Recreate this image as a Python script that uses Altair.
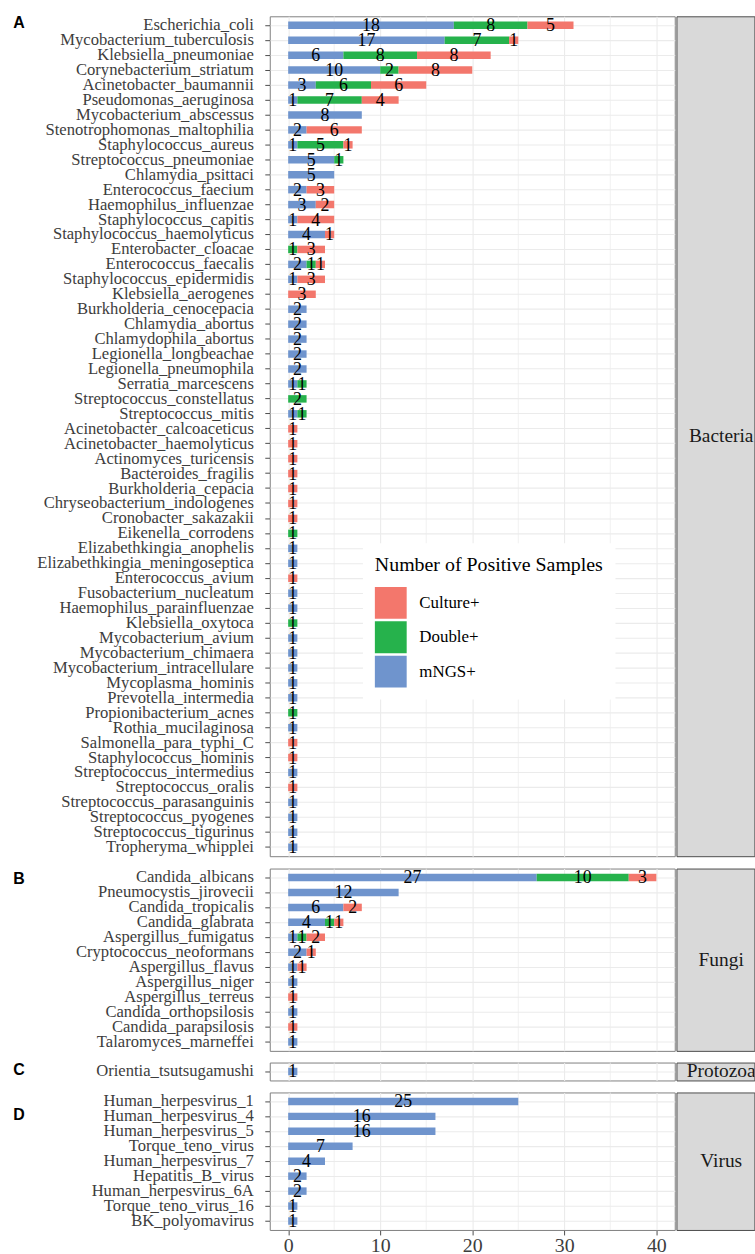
import altair as alt
import pandas as pd

# ---------------- data ----------------
bacteria = [
    "Escherichia_coli", "Mycobacterium_tuberculosis", "Klebsiella_pneumoniae",
    "Corynebacterium_striatum", "Acinetobacter_baumannii", "Pseudomonas_aeruginosa",
    "Mycobacterium_abscessus", "Stenotrophomonas_maltophilia", "Staphylococcus_aureus",
    "Streptococcus_pneumoniae", "Chlamydia_psittaci", "Enterococcus_faecium",
    "Haemophilus_influenzae", "Staphylococcus_capitis", "Staphylococcus_haemolyticus",
    "Enterobacter_cloacae", "Enterococcus_faecalis", "Staphylococcus_epidermidis",
    "Klebsiella_aerogenes", "Burkholderia_cenocepacia", "Chlamydia_abortus",
    "Chlamydophila_abortus", "Legionella_longbeachae", "Legionella_pneumophila",
    "Serratia_marcescens", "Streptococcus_constellatus", "Streptococcus_mitis",
    "Acinetobacter_calcoaceticus", "Acinetobacter_haemolyticus", "Actinomyces_turicensis",
    "Bacteroides_fragilis", "Burkholderia_cepacia", "Chryseobacterium_indologenes",
    "Cronobacter_sakazakii", "Eikenella_corrodens", "Elizabethkingia_anophelis",
    "Elizabethkingia_meningoseptica", "Enterococcus_avium", "Fusobacterium_nucleatum",
    "Haemophilus_parainfluenzae", "Klebsiella_oxytoca", "Mycobacterium_avium",
    "Mycobacterium_chimaera", "Mycobacterium_intracellulare", "Mycoplasma_hominis",
    "Prevotella_intermedia", "Propionibacterium_acnes", "Rothia_mucilaginosa",
    "Salmonella_para_typhi_C", "Staphylococcus_hominis", "Streptococcus_intermedius",
    "Streptococcus_oralis", "Streptococcus_parasanguinis", "Streptococcus_pyogenes",
    "Streptococcus_tigurinus", "Tropheryma_whipplei",
]
bacteria_mngs = [18, 17, 6, 10, 3, 1, 8, 2, 1, 5, 5, 2, 3, 1, 4, 0, 2, 1, 0, 2, 2, 2, 2, 2,
                 1, 0, 1, 0, 0, 0, 0, 0, 0, 0, 0, 1, 1, 0, 1, 1, 0, 1, 1, 1, 1, 1, 0, 1,
                 0, 0, 1, 0, 1, 1, 1, 1]
bacteria_double = [8, 7, 8, 2, 6, 7, 0, 0, 5, 1, 0, 0, 0, 0, 0, 1, 1, 0, 0, 0, 0, 0, 0, 0,
                   1, 2, 1, 0, 0, 0, 0, 0, 0, 0, 1, 0, 0, 0, 0, 0, 1, 0, 0, 0, 0, 0, 1, 0,
                   0, 0, 0, 0, 0, 0, 0, 0]
bacteria_culture = [5, 1, 8, 8, 6, 4, 0, 6, 1, 0, 0, 3, 2, 4, 1, 3, 1, 3, 3, 0, 0, 0, 0, 0,
                    0, 0, 0, 1, 1, 1, 1, 1, 1, 1, 0, 0, 0, 1, 0, 0, 0, 0, 0, 0, 0, 0, 0, 0,
                    1, 1, 0, 1, 0, 0, 0, 0]

fungi = [
    "Candida_albicans", "Pneumocystis_jirovecii", "Candida_tropicalis", "Candida_glabrata",
    "Aspergillus_fumigatus", "Cryptococcus_neoformans", "Aspergillus_flavus",
    "Aspergillus_niger", "Aspergillus_terreus", "Candida_orthopsilosis",
    "Candida_parapsilosis", "Talaromyces_marneffei",
]
fungi_mngs = [27, 12, 6, 4, 1, 2, 1, 1, 0, 1, 0, 1]
fungi_double = [10, 0, 0, 1, 1, 0, 0, 0, 0, 0, 0, 0]
fungi_culture = [3, 0, 2, 1, 2, 1, 1, 0, 1, 0, 1, 0]

protozoa = ["Orientia_tsutsugamushi"]
protozoa_mngs = [1]
protozoa_double = [0]
protozoa_culture = [0]

virus = [
    "Human_herpesvirus_1", "Human_herpesvirus_4", "Human_herpesvirus_5", "Torque_teno_virus",
    "Human_herpesvirus_7", "Hepatitis_B_virus", "Human_herpesvirus_6A",
    "Torque_teno_virus_16", "BK_polyomavirus",
]
virus_mngs = [25, 16, 16, 7, 4, 2, 2, 1, 1]
virus_double = [0, 0, 0, 0, 0, 0, 0, 0, 0]
virus_culture = [0, 0, 0, 0, 0, 0, 0, 0, 0]

sample_types = ["Culture+", "Double+", "mNGS+"]
type_colors = ["#F3776C", "#26B24C", "#6F94CD"]
stack_rank = {"mNGS+": 0, "Double+": 1, "Culture+": 2}
major_ticks = [0, 10, 20, 30, 40]
minor_ticks = [5, 15, 25, 35]

# ---------------- styling ----------------
SERIF = "Liberation Serif"
ROW_STEP = 15.03
PLOT_W = 407.3
STRIP_W = 78.4
TAG_W = 22.2
GRID = "#EBEBEB"
INK = "#3d3d3d"


def panel_height(n_rows):
    return ROW_STEP * (n_rows + 0.2)


def long_table(names, mngs, double, culture):
    rows = []
    for i, name in enumerate(names):
        for label, vals in (("mNGS+", mngs), ("Double+", double), ("Culture+", culture)):
            if vals[i] > 0:
                rows.append({"species": name, "type": label,
                             "count": vals[i], "rank": stack_rank[label]})
    return pd.DataFrame(rows)


def panel(names, mngs, double, culture, show_x, legend):
    xscale = alt.Scale(domain=[-2, 42], nice=False, zero=False)
    yscale = alt.Scale(domain=names, paddingInner=0.5, paddingOuter=0.35)
    if show_x:
        xaxis = alt.Axis(values=major_ticks, title=None, labelFont=SERIF, labelFontSize=20,
                         labelColor=INK, labelPadding=1, tickSize=5, tickColor="#4d4d4d",
                         domain=False, grid=True, gridColor=GRID, gridWidth=1.1)
    else:
        xaxis = alt.Axis(values=major_ticks, title=None, labels=False, ticks=False,
                         domain=False, grid=True, gridColor=GRID, gridWidth=1.1,
                         minExtent=0, maxExtent=0)
    yaxis = alt.Axis(title=None, labelFont=SERIF, labelFontSize=16.7, labelColor=INK,
                     labelPadding=11.5, labelLimit=400, tickSize=5, tickColor="#4d4d4d",
                     domain=False, grid=True, gridColor=GRID, gridWidth=1.1,
                     bandPosition=0.5)

    minor = alt.Chart(pd.DataFrame({"v": minor_ticks})).mark_rule(
        color=GRID, strokeWidth=0.7
    ).encode(x=alt.X("v:Q", scale=xscale, axis=xaxis))

    base = alt.Chart(long_table(names, mngs, double, culture)).transform_stack(
        stack="count", groupby=["species"],
        sort=[alt.SortField("rank", order="ascending")], as_=["x0", "x1"]
    ).transform_calculate(mid="(datum.x0 + datum.x1) / 2")

    bars = base.mark_bar().encode(
        y=alt.Y("species:N", scale=yscale, axis=yaxis),
        x=alt.X("x0:Q", scale=xscale, axis=xaxis),
        x2="x1:Q",
        color=alt.Color("type:N", scale=alt.Scale(domain=sample_types, range=type_colors),
                        legend=legend),
    )
    values = base.mark_text(font=SERIF, fontSize=18, color="black",
                            baseline="middle", dy=1).encode(
        y=alt.Y("species:N", scale=yscale, axis=yaxis),
        x=alt.X("mid:Q", scale=xscale, axis=xaxis),
        text="count:Q",
    )
    return alt.layer(minor, bars, values).properties(
        width=PLOT_W, height=panel_height(len(names)))


def tag_cell(tag, tag_y, n_rows):
    # bold panel letter sitting in its own narrow column
    return alt.Chart(pd.DataFrame({"tag": [tag]})).mark_text(
        font="Liberation Sans", fontWeight="bold", fontSize=16, align="left",
        baseline="alphabetic", color="black",
    ).encode(text="tag:N", x=alt.value(0), y=alt.value(tag_y)).properties(
        width=TAG_W, height=panel_height(n_rows),
        view=alt.ViewBackground(fill="white", stroke="white", strokeWidth=0),
    )


def strip(group, n_rows):
    height = panel_height(n_rows)
    return alt.Chart(pd.DataFrame({"group": [group]})).mark_text(
        font=SERIF, fontSize=19.5, color="#1a1a1a", clip=True,
        align="center", baseline="middle"
    ).encode(text="group:N", x=alt.value(45), y=alt.value(height / 2)).properties(
        width=STRIP_W, height=height,
        view=alt.ViewBackground(fill="#D9D9D9", stroke="#4d4d4d", strokeWidth=1),
    )


legend_a = alt.Legend(
    orient="none", legendX=93.7, legendY=530, direction="vertical",
    title="Number of Positive Samples", titleFont=SERIF, titleFontSize=20,
    titleFontWeight="normal", titleColor="black", titlePadding=12, titleLimit=400,
    labelFont=SERIF, labelFontSize=17, labelColor="black", labelOffset=12.7,
    labelLimit=200, symbolType="square", symbolSize=1024, symbolStrokeWidth=0,
    rowPadding=2.5, padding=12, fillColor="white",
)

chart = alt.concat(
    tag_cell("A", 11.3, len(bacteria)),
    panel(bacteria, bacteria_mngs, bacteria_double, bacteria_culture, False, legend_a),
    strip("Bacteria", len(bacteria)),
    tag_cell("B", 15.7, len(fungi)),
    panel(fungi, fungi_mngs, fungi_double, fungi_culture, False, None),
    strip("Fungi", len(fungi)),
    tag_cell("C", 12.7, len(protozoa)),
    panel(protozoa, protozoa_mngs, protozoa_double, protozoa_culture, False, None),
    strip("Protozoa", len(protozoa)),
    tag_cell("D", 27.3, len(virus)),
    panel(virus, virus_mngs, virus_double, virus_culture, True, None),
    strip("Virus", len(virus)),
    columns=3, spacing={"row": 9.1, "column": 0}, align="each",
).resolve_scale(
    x="independent", y="independent", color="independent"
).properties(
    padding={"left": 13.3, "top": 10.8, "right": 0, "bottom": 0},
).configure(
    background="white",
).configure_view(
    stroke="#808080", strokeWidth=1,
)

chart.save("out.html", embed_options={"renderer": "svg", "actions": False})
